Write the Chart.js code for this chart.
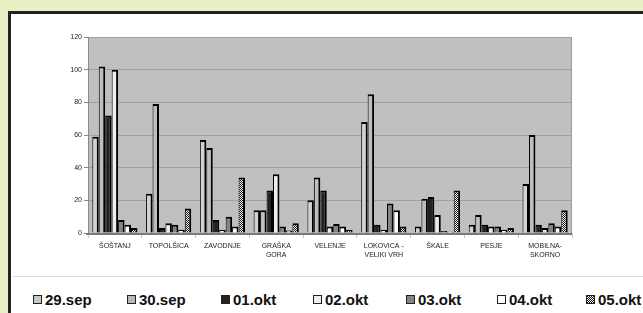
<!DOCTYPE html>
<html lang="sl">
<head>
    <meta charset="UTF-8">
    <title>Meritve 29.sep - 05.okt</title>
    <script src="https://cdn.jsdelivr.net/npm/chart.js"></script>
    <style>
        body {
            margin: 0;
            width: 643px;
            height: 313px;
            overflow: hidden;
            background-color: #e9f0c6;
            font-family: Arial, 'Liberation Sans', sans-serif;
            position: relative;
        }
        .frame {
            position: absolute;
            left: 8px;
            top: 11px;
            width: 700px;
            height: 400px;
            border-top: 3px solid #222;
            border-left: 3px solid #222;
            background-color: white;
        }
        .chart-wrap {
            position: absolute;
            left: 0;
            top: 0;
            width: 643px;
            height: 275px;
        }
        .separator {
            position: absolute;
            left: 13px;
            top: 276px;
            width: 640px;
            height: 1px;
            background-color: #dcdcdc;
        }
        .legend-item {
            position: absolute;
            top: 291px;
            font-weight: bold;
            font-size: 15px;
            color: #111;
            white-space: nowrap;
            line-height: 18px;
        }
        .legend-item span.box {
            display: inline-block;
            width: 7px;
            height: 7px;
            border: 1px solid #222;
            margin-right: 3px;
            vertical-align: 1px;
        }
    </style>
</head>
<body>
    <div class="frame"></div>
    <div class="chart-wrap"><canvas id="chart"></canvas></div>
    <div class="separator"></div>
    <div id="legend"></div>

    <script>
        // Data
        const categories = ['ŠOŠTANJ', 'TOPOLŠICA', 'ZAVODNJE', ['GRAŠKA', 'GORA'], 'VELENJE',
            ['LOKOVICA -', 'VELIKI VRH'], 'ŠKALE', 'PESJE', ['MOBILNA-', 'SKORNO']];
        const seriesNames = ['29.sep', '30.sep', '01.okt', '02.okt', '03.okt', '04.okt', '05.okt'];
        const sep29 = [59, 24, 57, 14, 20, 68, 4, 5, 30];
        const sep30 = [102, 79, 52, 14, 34, 85, 21, 11, 60];
        const okt01 = [72, 3, 8, 26, 26, 5, 22, 5, 5];
        const okt02 = [100, 6, 2, 36, 4, 2, 11, 4, 3];
        const okt03 = [8, 5, 10, 4, 5.5, 18, 1.2, 4, 6];
        const okt04 = [5, 2, 4, 1.5, 4, 14, 0.8, 2, 4];
        const okt05 = [3, 15, 34, 6, 2, 4, 26, 3, 14];
        const yTicks = [0, 20, 40, 60, 80, 100, 120];

        // checker pattern for 05.okt
        const pc = document.createElement('canvas');
        pc.width = 2; pc.height = 2;
        const pctx = pc.getContext('2d');
        pctx.fillStyle = '#fff'; pctx.fillRect(0, 0, 2, 2);
        pctx.fillStyle = '#111'; pctx.fillRect(0, 0, 1, 1); pctx.fillRect(1, 1, 1, 1);
        const checker = document.createElement('canvas').getContext('2d').createPattern(pc, 'repeat');

        const fills = ['#d2d2d2', '#bebebe', '#222222', '#eeeeee', '#858585', '#ffffff', checker];
        const legendFills = ['#c8c8c8', '#b8b8b8', '#222222', '#eeeeee', '#858585', '#ffffff',
            'url(' + pc.toDataURL() + ')'];
        const legendX = [33, 127, 221, 313, 406, 497, 586];

        const values = [sep29, sep30, okt01, okt02, okt03, okt04, okt05];

        const datasets = values.map((v, i) => ({
            label: seriesNames[i],
            data: v,
            backgroundColor: fills[i],
            borderColor: '#000',
            borderWidth: { top: 2, left: 1, right: 2, bottom: 0 },
            borderSkipped: 'bottom',
            categoryPercentage: 0.84,
            barPercentage: 1.0
        }));

        // plot wall
        const wall = {
            id: 'wall',
            beforeDraw(chart) {
                const { ctx, chartArea: a } = chart;
                ctx.save();
                ctx.fillStyle = '#c0c0c0';
                ctx.fillRect(a.left, a.top, a.right - a.left, a.bottom - a.top);
                ctx.strokeStyle = '#9a9a9a';
                ctx.lineWidth = 1;
                ctx.strokeRect(a.left + 0.5, a.top + 0.5, a.right - a.left - 1, a.bottom - a.top);
                ctx.restore();
            },
            afterDatasetsDraw(chart) {
                const { ctx, chartArea: a } = chart;
                ctx.save();
                ctx.fillStyle = '#7a7a7a';
                ctx.fillRect(a.left - 2, a.bottom, a.right - a.left + 2, 2);
                ctx.restore();
            }
        };

        new Chart(document.getElementById('chart'), {
            type: 'bar',
            data: { labels: categories, datasets: datasets },
            options: {
                responsive: true,
                maintainAspectRatio: false,
                animation: false,
                layout: { padding: { left: 40, top: 37, right: 71, bottom: 2 } },
                plugins: {
                    legend: { display: false },
                    tooltip: { enabled: false }
                },
                scales: {
                    x: {
                        offset: true,
                        grid: {
                            offset: true,
                            drawOnChartArea: false,
                            tickLength: 5,
                            color: '#c8c8c8'
                        },
                        border: { display: false },
                        ticks: {
                            padding: 4,
                            maxRotation: 0,
                            autoSkip: false,
                            color: '#222',
                            font: { family: 'Arial', size: 7 }
                        },
                        afterFit(scale) { scale.height = 40; }
                    },
                    y: {
                        min: 0,
                        max: 120,
                        afterBuildTicks(scale) { scale.ticks = yTicks.map(v => ({ value: v })); },
                        grid: { color: '#a0a0a0', tickLength: 4, tickColor: '#888' },
                        border: { color: '#8a8a8a' },
                        ticks: {
                            padding: 2,
                            color: '#222',
                            font: { family: 'Arial', size: 7 }
                        },
                        afterFit(scale) { scale.width = 48; }
                    }
                }
            },
            plugins: [wall]
        });

        // HTML legend
        const legend = document.getElementById('legend');
        seriesNames.forEach((name, i) => {
            const item = document.createElement('div');
            item.className = 'legend-item';
            item.style.left = legendX[i] + 'px';
            const box = document.createElement('span');
            box.className = 'box';
            box.style.background = legendFills[i];
            item.appendChild(box);
            item.appendChild(document.createTextNode(name));
            legend.appendChild(item);
        });
    </script>
</body>
</html>
